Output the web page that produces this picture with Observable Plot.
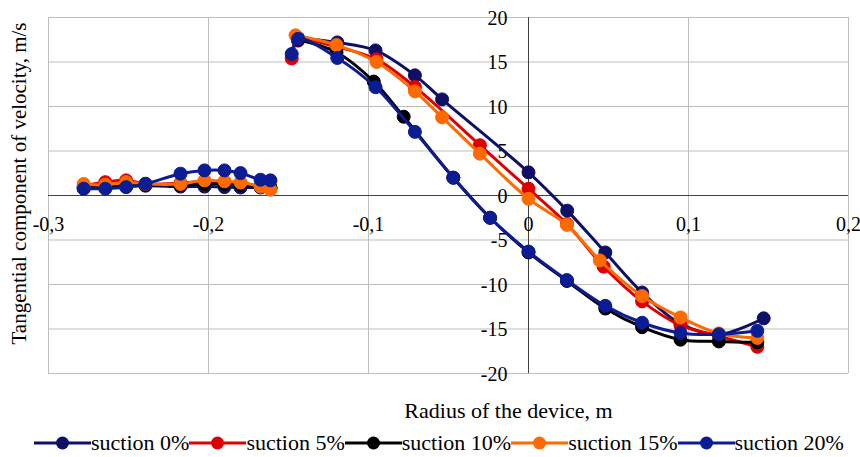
<!DOCTYPE html>
<html><head><meta charset="utf-8">
<script src="https://cdn.jsdelivr.net/npm/d3@7"></script>
<script src="https://cdn.jsdelivr.net/npm/@observablehq/plot@0.6"></script>
<style>
html,body{margin:0;padding:0;background:#fff;}
body{width:860px;height:457px;overflow:hidden;font-family:"Liberation Serif","Times New Roman",serif;color:#000;}
#chart svg{display:block;}
.legend{display:flex;height:29px;align-items:center;padding-left:34px;font-size:22px;white-space:nowrap;}
.item{display:flex;align-items:center;}
.item svg{display:block;}
</style></head><body>
<div id="chart"></div>
<div class="legend" id="legend"></div>
<script>
const series = ["suction 0%","suction 5%","suction 10%","suction 15%","suction 20%"];
const colors = ["#0E1066","#DD0000","#000000","#FF6A00","#0B1C94"];

const xTicks = [-0.3,-0.2,-0.1,0,0.1,0.2];
const xTickLabels = ["-0,3","-0,2","-0,1","0","0,1","0,2"];
const yTicks = [-20,-15,-10,-5,0,5,10,15,20];
const yTickLabels = ["-20","-15","-10","-5","0","5","10","15","20"];
const xTitle = "Radius of the device, m";
const yTitle = "Tangential component of velocity, m/s";

// outer (left) zone
const leftX = [-0.278,-0.2645,-0.2515,-0.2394,-0.2175,-0.2025,-0.190,-0.180,-0.1675,-0.1613];
const left0  = [0.8,0.85,1.0,1.1,1.0,1.0,0.95,0.9,0.9,0.85];
const left5  = [1.1,1.5,1.7,1.3,1.4,1.6,1.5,1.4,1.0,0.8];
const left10 = [0.9,1.0,1.1,1.2,1.2,1.3,1.3,1.2,1.0,0.9];
const left15 = [1.3,1.2,1.5,1.3,1.3,1.7,1.6,1.45,1.0,0.65];
const left20 = [0.76,0.76,0.94,1.32,2.45,2.82,2.82,2.52,1.77,1.70];

// inner (right) zone
const right0x  = [-0.144,-0.1195,-0.0956,-0.071,-0.054,0,0.0242,0.048,0.071,0.095,0.119,0.147];
const right0y  = [17.7,17.2,16.3,13.5,10.8,2.6,-1.7,-6.4,-10.9,-14.4,-15.6,-13.8];
const right5x  = [-0.148,-0.144,-0.12,-0.095,-0.071,-0.0304,0,0.024,0.047,0.071,0.095,0.119,0.143];
const right5y  = [15.4,17.4,16.7,15.3,12.2,5.65,0.76,-3.2,-8.0,-11.9,-14.6,-15.8,-17.0];
const right10x = [-0.144,-0.12,-0.0967,-0.078,-0.047,-0.024,0,0.024,0.048,0.071,0.095,0.119,0.143];
const right10y = [17.5,16.1,12.8,8.85,2.0,-2.5,-6.4,-9.6,-12.7,-14.8,-16.2,-16.4,-16.5];
const right15x = [-0.1456,-0.12,-0.095,-0.071,-0.054,-0.0304,0,0.024,0.0446,0.071,0.095,0.119,0.143];
const right15y = [18.0,16.9,15.0,11.7,8.78,4.7,-0.37,-3.3,-7.3,-11.3,-13.7,-15.5,-16.0];
const right20x = [-0.148,-0.144,-0.1195,-0.0956,-0.071,-0.047,-0.024,0,0.024,0.048,0.071,0.095,0.119,0.143];
const right20y = [15.9,17.6,15.45,12.17,7.15,2.0,-2.5,-6.3,-9.5,-12.4,-14.3,-15.45,-15.6,-15.2];

const leftVals = [left0,left5,left10,left15,left20];
const rightX = [right0x,right5x,right10x,right15x,right20x];
const rightY = [right0y,right5y,right10y,right15y,right20y];

const rows = [];
series.forEach((s,k)=>{
  leftX.forEach((x,i)=>rows.push({series:s,seg:"outer",x,y:leftVals[k][i]}));
  rightX[k].forEach((x,i)=>rows.push({series:s,seg:"inner",x,y:rightY[k][i]}));
});

const grid = {stroke:"#BFBFBF",strokeOpacity:1,strokeWidth:1};
const marks = [
  Plot.gridX(xTicks.filter(d=>d!==0),grid),
  Plot.gridY(yTicks.filter(d=>d!==0),grid),
  Plot.ruleX([0],{stroke:"#404040",strokeWidth:1}),
  Plot.ruleY([0],{stroke:"#404040",strokeWidth:1}),
  Plot.text(xTicks,{x:d=>d,y:0,text:(d,i)=>xTickLabels[i],dy:29,fontSize:20,textAnchor:"middle",lineAnchor:"middle",fill:"#000"}),
  Plot.text(yTicks,{x:0,y:d=>d,text:(d,i)=>yTickLabels[i],dx:-21,dy:1,fontSize:20,textAnchor:"end",lineAnchor:"middle",fill:"#000"}),
  Plot.text([xTitle],{frameAnchor:"bottom",text:d=>d,dx:60,dy:37,fontSize:22,textAnchor:"middle",lineAnchor:"middle",fill:"#000"}),
  Plot.text([yTitle],{frameAnchor:"left",text:d=>d,rotate:-90,dx:-29,dy:-12,fontSize:21,textAnchor:"middle",lineAnchor:"middle",fill:"#000"})
];
series.forEach((s,k)=>{
  const r = rows.filter(d=>d.series===s);
  marks.push(Plot.line(r,{x:"x",y:"y",z:"seg",stroke:colors[k],strokeWidth:3,curve:"catmull-rom"}));
  marks.push(Plot.dot(r,{x:"x",y:"y",r:6.5,fill:colors[k],stroke:colors[k],strokeWidth:1}));
});

const chart = Plot.plot({
  width:860,height:428,
  marginLeft:48,marginRight:12,marginTop:17,marginBottom:55,
  style:{fontFamily:"Liberation Serif, Times New Roman, serif",background:"#fff",overflow:"visible"},
  x:{domain:[-0.3,0.2],axis:null},
  y:{domain:[-20,20],axis:null},
  marks
});
document.getElementById("chart").append(chart);

const lg = document.getElementById("legend");
series.forEach((s,k)=>{
  const it = document.createElement("div");
  it.className="item";
  it.innerHTML = `<svg width="57" height="16"><line x1="0" x2="57" y1="8" y2="8" stroke="${colors[k]}" stroke-width="3"/><circle cx="28.5" cy="8" r="6.5" fill="${colors[k]}"/></svg><span>${s}</span>`;
  lg.append(it);
});
</script>
</body></html>
